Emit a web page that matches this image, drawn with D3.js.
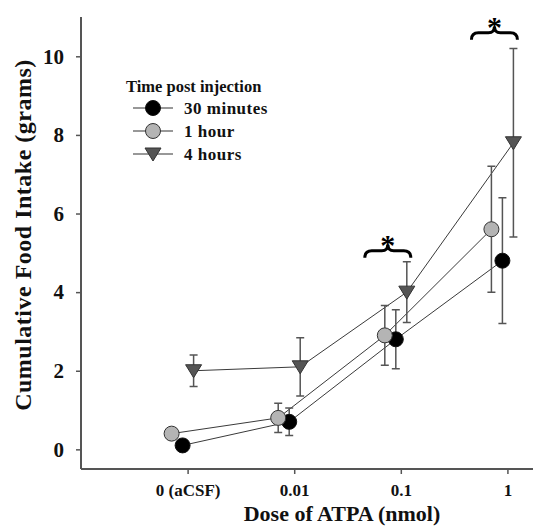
<!DOCTYPE html>
<html>
<head>
<meta charset="utf-8">
<script src="https://cdn.jsdelivr.net/npm/d3@7"></script>
<style>
  body { margin: 0; background: #fff; }
  svg text { font-family: "Liberation Serif", "Times New Roman", serif; font-weight: bold; }
</style>
</head>
<body>
<div id="chart"></div>
<script>
// dose categories (aCSF is placed one decade below 0.01 on the log axis)
const doses = [0.001, 0.01, 0.1, 1];
const doseLabels = ["0 (aCSF)", "0.01", "0.1", "1"];
const yTicks = [0, 2, 4, 6, 8, 10];

// cumulative food intake (grams) and error bars
const min30 = [0.1, 0.7, 2.8, 4.8];
const min30Err = [0.15, 0.35, 0.75, 1.6];
const hour1 = [0.4, 0.8, 2.9, 5.6];
const hour1Err = [0.15, 0.37, 0.76, 1.6];
const hour4 = [2.0, 2.1, 4.0, 7.8];
const hour4Err = [0.4, 0.74, 0.77, 2.4];

const seriesNames = ["30 minutes", "1 hour", "4 hours"];

// significance markers
const sigDoses = [0.1, 1];
const sigLevel = [5.05, 10.6];

const w = 533, h = 526;
const margin = {top: 17, right: 0, bottom: 57, left: 81};

const x = d3.scaleLog()
  .domain([1e-4, Math.pow(10, 0.24)])
  .range([margin.left, w - margin.right]);

const y = d3.scaleLinear()
  .domain([-0.5, 11])
  .range([h - margin.bottom, margin.top]);

const series = [
  {name: seriesNames[0], values: min30, err: min30Err, shape: "circle", fill: "#000", stroke: "#111", dx: -5},
  {name: seriesNames[1], values: hour1, err: hour1Err, shape: "circle", fill: "#b4b4b4", stroke: "#333", dx: -16},
  {name: seriesNames[2], values: hour4, err: hour4Err, shape: "triangle", fill: "#555", stroke: "#333", dx: 6}
];

const svg = d3.select("#chart").append("svg")
  .attr("width", w)
  .attr("height", h);

/** axes */
const yAxis = d3.axisLeft(y).tickValues(yTicks).tickSize(5).tickPadding(12).tickFormat(d3.format("d"));
const xAxis = d3.axisBottom(x).tickValues(doses).tickSize(5).tickPadding(10)
  .tickFormat((d, i) => doseLabels[i]);

const gy = svg.append("g")
  .attr("transform", "translate(" + margin.left + ",0)")
  .call(yAxis);
gy.select(".domain").attr("d", "M0," + y.range()[1] + "V" + y.range()[0]);

const gx = svg.append("g")
  .attr("transform", "translate(0," + (h - margin.bottom) + ")")
  .call(xAxis);
gx.select(".domain").attr("d", "M" + x.range()[0] + ",0H" + x.range()[1]);

svg.selectAll(".domain").attr("stroke", "#555").attr("stroke-width", 2);
svg.selectAll(".tick line").attr("stroke", "#555").attr("stroke-width", 1.5);
gy.selectAll(".tick text").attr("font-size", 21).attr("fill", "#111");
gx.selectAll(".tick text").attr("font-size", 17).attr("fill", "#111");

/** axis titles */
svg.append("text")
  .attr("x", 342).attr("y", 521)
  .attr("text-anchor", "middle")
  .attr("font-size", 22)
  .attr("fill", "#111")
  .text("Dose of ATPA (nmol)");

svg.append("text")
  .attr("transform", "translate(31,235) rotate(-90)")
  .attr("text-anchor", "middle")
  .attr("font-size", 24)
  .attr("letter-spacing", 0.5)
  .attr("fill", "#111")
  .text("Cumulative Food Intake (grams)");

/** markers */
function marker(sel, s) {
  if (s.shape === "circle") {
    sel.append("circle").attr("r", 7.5);
  } else {
    sel.append("path").attr("d", "M-8,-6L8,-6L0,7Z");
  }
  sel.selectAll("circle,path")
    .attr("fill", s.fill)
    .attr("stroke", s.stroke)
    .attr("stroke-width", 1);
}

const px = (s, i) => x(doses[i]) + s.dx;

// connecting lines
const line = d3.line().x(d => d[0]).y(d => d[1]);
series.forEach(s => {
  svg.append("path")
    .attr("d", line(s.values.map((v, i) => [px(s, i), y(v)])))
    .attr("fill", "none")
    .attr("stroke", "#3a3a3a")
    .attr("stroke-width", 1);
});

// error bars
series.forEach(s => {
  s.values.forEach((v, i) => {
    const cx = px(s, i);
    const top = y(v + s.err[i]), bot = y(v - s.err[i]);
    svg.append("path")
      .attr("d", "M" + cx + "," + top + "V" + bot +
        "M" + (cx - 4) + "," + top + "H" + (cx + 4) +
        "M" + (cx - 4) + "," + bot + "H" + (cx + 4))
      .attr("fill", "none")
      .attr("stroke", "#555")
      .attr("stroke-width", 1.5);
  });
});

// points
series.forEach(s => {
  s.values.forEach((v, i) => {
    svg.append("g")
      .attr("transform", "translate(" + px(s, i) + "," + y(v) + ")")
      .call(marker, s);
  });
});

/** significance braces */
function brace(cx, yy, half) {
  const d = 7, p = 6;
  return "M" + (cx - half) + "," + (yy + d) +
    "Q" + (cx - half) + "," + yy + " " + (cx - half + d) + "," + yy +
    "L" + (cx - p) + "," + yy +
    "Q" + cx + "," + yy + " " + cx + "," + (yy - p) +
    "Q" + cx + "," + yy + " " + (cx + p) + "," + yy +
    "L" + (cx + half - d) + "," + yy +
    "Q" + (cx + half) + "," + yy + " " + (cx + half) + "," + (yy + d);
}
sigDoses.forEach((dv, i) => {
  const cx = x(dv) - 13;
  const yy = y(sigLevel[i]);
  svg.append("path")
    .attr("d", brace(cx, yy, 23))
    .attr("fill", "none")
    .attr("stroke", "#000")
    .attr("stroke-width", 3);
  svg.append("text")
    .attr("x", cx).attr("y", yy + 4)
    .attr("text-anchor", "middle")
    .attr("font-size", 30)
    .attr("fill", "#000")
    .text("*");
});

/** legend */
const legend = svg.append("g").attr("transform", "translate(126,87)");
legend.append("text")
  .attr("x", 0).attr("y", 5)
  .attr("font-size", 16.5)
  .attr("fill", "#111")
  .text("Time post injection");
series.forEach((s, i) => {
  const row = legend.append("g").attr("transform", "translate(0," + (21 + i * 23) + ")");
  row.append("line")
    .attr("x1", 7).attr("x2", 47)
    .attr("stroke", "#333").attr("stroke-width", 1.2);
  row.append("g").attr("transform", "translate(27,0)").call(marker, s);
  row.append("text")
    .attr("x", 58).attr("y", 6)
    .attr("font-size", 17)
    .attr("letter-spacing", 0.5)
    .attr("fill", "#111")
    .text(s.name);
});
</script>
</body>
</html>
